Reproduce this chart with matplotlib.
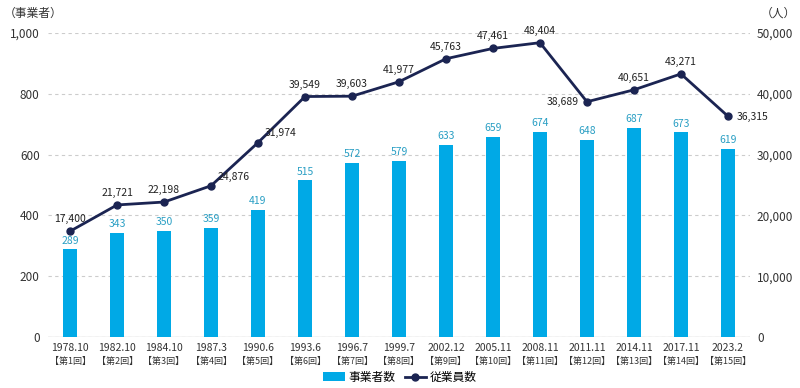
import numpy as np
import matplotlib
matplotlib.use('Agg')
from matplotlib import pyplot as plt
from matplotlib.lines import Line2D

plt.rcParams['font.family'] = ['Noto Sans CJK JP', 'DejaVu Sans']

dates = ['1978.10', '1982.10', '1984.10', '1987.3', '1990.6', '1993.6', '1996.7', '1999.7',
         '2002.12', '2005.11', '2008.11', '2011.11', '2014.11', '2017.11', '2023.2']
rounds = ['【第%d回】' % i for i in range(1, 16)]
businesses = [289, 343, 350, 359, 419, 515, 572, 579, 633, 659, 674, 648, 687, 673, 619]
employees = [17400, 21721, 22198, 24876, 31974, 39549, 39603, 41977, 45763, 47461, 48404,
             38689, 40651, 43271, 36315]

bar_c = '#00a9e6'
line_c = '#1b2452'
txt_c = '#333333'

fig = plt.figure(figsize=(8, 3.88), dpi=100)
ax = fig.add_axes([0.06, 0.1314, 0.8775, 0.7836])
ax2 = ax.twinx()

x = np.arange(len(dates))
ax.bar(x, businesses, width=0.3, color=bar_c, zorder=2)
for xi, v in zip(x, businesses):
    ax.text(xi, v + 12, str(v), ha='center', va='bottom', fontsize=7.5, color='#2a9fc4')

ax2.plot(x, employees, color=line_c, lw=2, marker='o', ms=5, zorder=3)

# label offsets (points)
offs = {3: (5, 3, 'left'), 4: (5, 3, 'left'),
        11: (-6, -4, 'right'), 14: (6, -4, 'left')}
for i, v in enumerate(employees):
    dx, dy, ha = offs.get(i, (0, 5, 'center'))
    ax2.annotate(f'{v:,}', (x[i], v), xytext=(dx, dy), textcoords='offset points',
                 ha=ha, va='bottom', fontsize=7.5, color='#222222')

ax.set_xlim(-0.47, 14.47)
ax.set_ylim(0, 1000)
ax2.set_ylim(0, 50000)
ax.set_yticks(np.arange(0, 1001, 200))
ax.set_yticklabels([f'{v:,}' for v in range(0, 1001, 200)])
ax2.set_yticks(np.arange(0, 50001, 10000))
ax2.set_yticklabels([f'{v:,}' for v in range(0, 50001, 10000)])
ax.set_xticks(x)
ax.set_xticklabels(dates)
for xi, r in zip(x, rounds):
    ax.annotate(r, (xi, 0), xycoords=('data', 'axes fraction'), xytext=(0, -14.5),
                textcoords='offset points', ha='center', va='top', fontsize=6.5, color=txt_c)

ax.grid(axis='y', color='#cccccc', ls=(0, (3, 3)), lw=0.8, zorder=0)
for a in (ax, ax2):
    for s in a.spines.values():
        s.set_visible(False)
    a.tick_params(length=0, labelsize=8.5, colors=txt_c)
ax.tick_params(axis='x', labelsize=7.5, pad=4)
ax.tick_params(axis='y', pad=6)
ax2.tick_params(axis='y', pad=5)
ax.axhline(0, color='#cccccc', lw=1, zorder=1)

fig.text(0.005, 0.965, '（事業者）', fontsize=8.5, color=txt_c, va='center')
fig.text(0.995, 0.965, '（人）', fontsize=8.5, color=txt_c, va='center', ha='right')

h1 = ax.bar([0], [0], color=bar_c, label='事業者数')
h2 = Line2D([], [], color=line_c, lw=2, marker='o', ms=5, label='従業員数')
fig.legend(handles=[h1, h2], loc='center', bbox_to_anchor=(0.5, 0.028), ncol=2, frameon=False,
           fontsize=8.5, handlelength=1.8, columnspacing=0.8, handletextpad=0.3)

fig.savefig('out.png', dpi=100)
